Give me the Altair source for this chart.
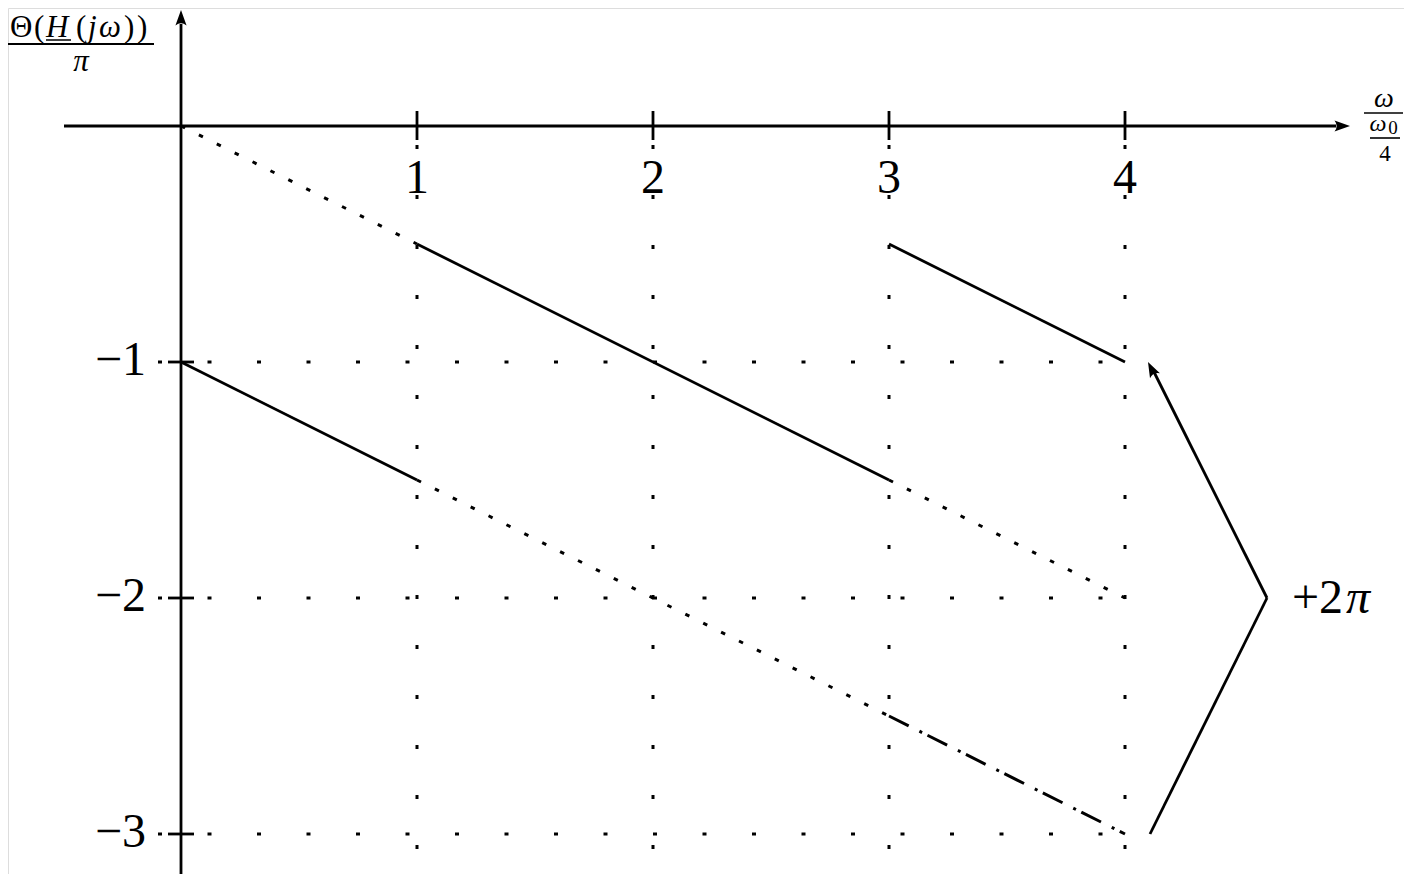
import altair as alt
import pandas as pd

# ---------------- data ----------------
# phase segments  (x in ω/(ω0/4), y in Θ/π)
solid_x1 = [1, 3, 0]
solid_y1 = [-0.5, -0.5, -1.0]
solid_x2 = [3, 4, 1]
solid_y2 = [-1.5, -1.0, -1.5]

dotted_x1 = [0, 3, 1]
dotted_y1 = [0.0, -1.5, -1.5]
dotted_x2 = [1, 4, 3]
dotted_y2 = [-0.5, -2.0, -2.5]

dashdot_x1 = [3]
dashdot_y1 = [-2.5]
dashdot_x2 = [4]
dashdot_y2 = [-3.0]

x_ticks = [1, 2, 3, 4]
x_tick_labels = ["1", "2", "3", "4"]
y_ticks = [-1, -2, -3]
y_tick_labels = ["\u22121", "\u22122", "\u22123"]

# ---------------- layout ----------------
W, H = 1396, 866
OX, OY, U = 181 - 8, 126 - 8, 236.0  # origin in plot px, px per unit
X = lambda px: (px - 8 - OX) / U        # page px -> data
Y = lambda py: (OY - (py - 8)) / U
xdom = [X(8), X(8 + W)]
ydom = [Y(8 + H), Y(8)]
xs = alt.Scale(domain=xdom, nice=False, zero=False)
ys = alt.Scale(domain=ydom, nice=False, zero=False)
FONT = "Liberation Serif"
BLACK = "#000000"
LW = 2.8


def rules(df, **kw):
    return alt.Chart(df).mark_rule(color=BLACK, **kw).encode(
        x=alt.X("x1:Q", scale=xs, axis=None),
        y=alt.Y("y1:Q", scale=ys, axis=None),
        x2="x2:Q",
        y2="y2:Q",
    )


def seg_df(x1, y1, x2, y2):
    return pd.DataFrame({"x1": x1, "y1": y1, "x2": x2, "y2": y2})


bottom = ydom[0] - 0.2

# grid
vgrid = rules(seg_df(x_ticks, [Y(145)] * 4, x_ticks, [bottom] * 4),
              strokeWidth=3, strokeDash=[4, 46])
hgrid = rules(seg_df([X(158)] * 3, y_ticks, [X(1128)] * 3, y_ticks),
              strokeWidth=3, strokeDash=[4, 45.5])

# axes
axes = rules(seg_df([X(64), 0], [0, bottom], [X(1336), 0], [0, Y(24)]),
             strokeWidth=LW)
xt = rules(seg_df(x_ticks, [Y(111)] * 4, x_ticks, [Y(140)] * 4), strokeWidth=LW)
yt = rules(seg_df([X(168)] * 3, y_ticks, [X(194)] * 3, y_ticks), strokeWidth=LW)

# curves
solid = rules(seg_df(solid_x1, solid_y1, solid_x2, solid_y2), strokeWidth=LW)
dotted = rules(seg_df(dotted_x1, dotted_y1, dotted_x2, dotted_y2),
               strokeWidth=3, strokeDash=[4.5, 15.5])
dashdot = rules(seg_df(dashdot_x1, dashdot_y1, dashdot_x2, dashdot_y2),
                strokeWidth=3, strokeDash=[22, 12, 3, 6])

# +2π bracket arrow
bracket = rules(seg_df([X(1150), X(1267)], [Y(834), Y(598)],
                       [X(1267), X(1154)], [Y(598), Y(372)]), strokeWidth=LW)

ARROW = "M0,0 L-1,-0.36 Q-0.72,0 -1,0.36 Z"
heads = alt.Chart(pd.DataFrame({
    "x": [X(1350), 0, X(1148)],
    "y": [0, Y(10), Y(362)],
    "a": [0, 270, 243.2],
})).mark_point(shape=ARROW, filled=True, size=960, color=BLACK, opacity=1,
               strokeWidth=0).encode(
    x=alt.X("x:Q", scale=xs, axis=None),
    y=alt.Y("y:Q", scale=ys, axis=None),
    angle=alt.Angle("a:Q", scale=None),
)


def texts(df, **kw):
    return alt.Chart(df).mark_text(font=FONT, color=BLACK, **kw).encode(
        x=alt.X("x:Q", scale=xs, axis=None),
        y=alt.Y("y:Q", scale=ys, axis=None),
        text="t:N",
    )


xlab = texts(pd.DataFrame({"x": x_ticks, "y": [Y(193)] * 4, "t": x_tick_labels}),
             fontSize=48, align="center", baseline="alphabetic")
ylab = texts(pd.DataFrame({"x": [X(146)] * 3, "y": [t - 13 / U for t in y_ticks],
                           "t": y_tick_labels}),
             fontSize=48, align="right", baseline="alphabetic")
plus = texts(pd.DataFrame({"x": [X(1292)], "y": [Y(613)], "t": ["+2"]}),
             fontSize=48, align="left", baseline="alphabetic")
plus_pi = texts(pd.DataFrame({"x": [X(1346)], "y": [Y(613)], "t": ["\u03c0"]}),
                fontSize=48, align="left", baseline="alphabetic", fontStyle="italic")

# y-axis title: Θ(H(jω)) / π
NB = 37  # numerator baseline (page px)
num_reg = texts(pd.DataFrame({
    "x": [X(10), X(34), X(76), X(124), X(137)],
    "y": [Y(NB)] * 5,
    "t": ["\u0398", "(", "(", ")", ")"]}),
    fontSize=31, align="left", baseline="alphabetic")
num_it = texts(pd.DataFrame({
    "x": [X(46), X(88), X(99)],
    "y": [Y(NB)] * 3,
    "t": ["H", "j", "\u03c9"]}),
    fontSize=31, align="left", baseline="alphabetic", fontStyle="italic")
den = texts(pd.DataFrame({"x": [X(81)], "y": [Y(NB + 34)], "t": ["\u03c0"]}),
            fontSize=31, align="center", baseline="alphabetic", fontStyle="italic")
ybar = rules(seg_df([X(8)], [Y(NB + 7)], [X(154)], [Y(NB + 7)]), strokeWidth=2)
hbar = rules(seg_df([X(46)], [Y(NB + 3)], [X(71)], [Y(NB + 3)]), strokeWidth=1.5)

# x-axis title: ω / (ω0/4)
xt_w = texts(pd.DataFrame({"x": [X(1384)], "y": [Y(107)], "t": ["\u03c9"]}),
             fontSize=28, align="center", baseline="alphabetic", fontStyle="italic")
xt_w0 = texts(pd.DataFrame({"x": [X(1378)], "y": [Y(131)], "t": ["\u03c9"]}),
              fontSize=24, align="center", baseline="alphabetic", fontStyle="italic")
xt_reg = texts(pd.DataFrame({"x": [X(1385)], "y": [Y(161)], "t": ["4"]}),
               fontSize=23, align="center", baseline="alphabetic")
xt_sub = texts(pd.DataFrame({"x": [X(1393)], "y": [Y(134)], "t": ["0"]}),
               fontSize=19, align="center", baseline="alphabetic")
xbars = rules(seg_df([X(1364), X(1370)], [Y(113), Y(138)], [X(1403), X(1400)],
                     [Y(113), Y(138)]), strokeWidth=1.6)

chart = alt.layer(
    vgrid, hgrid, axes, xt, yt, solid, dotted, dashdot, bracket, heads,
    xlab, ylab, plus, plus_pi, num_reg, num_it, den, ybar, hbar,
    xt_w, xt_w0, xt_reg, xt_sub, xbars,
).properties(
    width=W, height=H, padding=0, autosize=alt.AutoSizeParams(type="none"),
).configure_view(stroke="transparent", strokeWidth=0).configure(background="white")

chart.save("out.html", embed_options={"renderer": "svg", "actions": False})
